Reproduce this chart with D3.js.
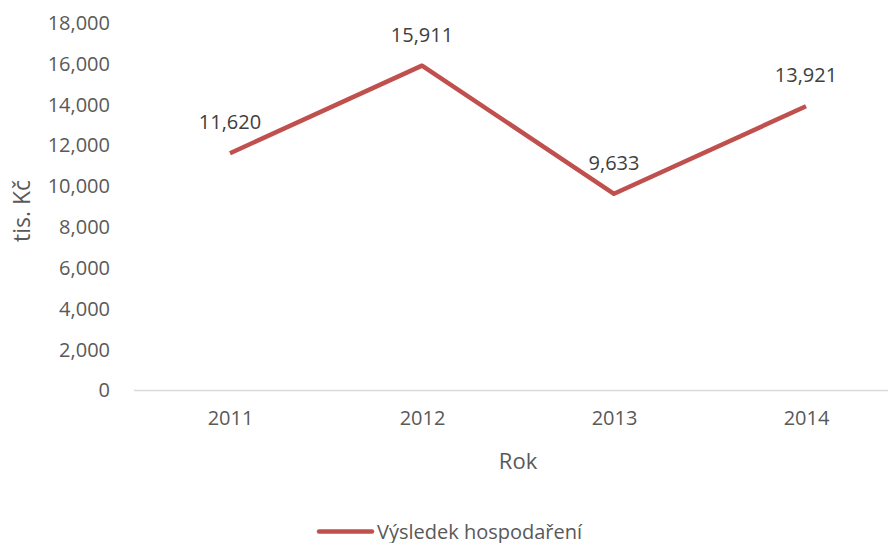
<!DOCTYPE html>
<html>
<head>
<meta charset="utf-8">
<script src="https://cdn.jsdelivr.net/npm/d3@7"></script>
<style>
  body { margin: 0; background: #fff; }
  text { font-family: "Open Sans", "Noto Sans", sans-serif; }
</style>
</head>
<body>
<div id="chart"></div>
<script>
const years = ['2011', '2012', '2013', '2014'];
const values = [11620, 15911, 9633, 13921];
const yTicks = [0, 2000, 4000, 6000, 8000, 10000, 12000, 14000, 16000, 18000];
const seriesName = 'Výsledek hospodaření';

const chartWidth = 888;
const chartHeight = 543;
const plotLeft = 134, plotRight = 902, plotTop = 23, plotBottom = 390.5;

const fmt = d3.format(',');

const xScale = d3.scalePoint()
    .domain(years)
    .range([plotLeft, plotRight])
    .padding(0.5);

const yScale = d3.scaleLinear()
    .domain([0, 18000])
    .range([plotBottom, plotTop]);

const svg = d3.select('#chart')
    .append('svg')
    .attr('width', chartWidth)
    .attr('height', chartHeight);

// y axis labels (no axis line, no ticks)
const yAxis = svg.append('g')
    .attr('transform', `translate(${plotLeft - 24},0)`)
    .call(d3.axisLeft(yScale).tickValues(yTicks).tickFormat(fmt).tickSize(0).tickPadding(0));
yAxis.select('.domain').remove();
yAxis.selectAll('text')
    .attr('fill', '#595959')
    .style('font-size', '20px')
    .style('font-family', '"Open Sans", sans-serif');

// x axis
const xAxis = svg.append('g')
    .attr('transform', `translate(0,${plotBottom})`)
    .call(d3.axisBottom(xScale).tickSize(0).tickPadding(20));
xAxis.select('.domain')
    .attr('stroke', '#d9d9d9')
    .attr('stroke-width', 1.5)
    .attr('d', `M${plotLeft},0H${plotRight}`);
xAxis.selectAll('text')
    .attr('fill', '#595959')
    .style('font-size', '20px')
    .style('font-family', '"Open Sans", sans-serif');

// line
const line = d3.line()
    .x((d, i) => xScale(years[i]))
    .y(d => yScale(d));

svg.append('path')
    .datum(values)
    .attr('d', line)
    .attr('fill', 'none')
    .attr('stroke', '#c0504d')
    .attr('stroke-width', 4.5)
    .attr('stroke-linejoin', 'round');

// data labels
svg.selectAll('.lbl')
    .data(values)
    .enter()
    .append('text')
    .attr('class', 'lbl')
    .attr('x', (d, i) => xScale(years[i]))
    .attr('y', d => yScale(d) - 24)
    .attr('text-anchor', 'middle')
    .attr('fill', '#404040')
    .style('font-size', '20px')
    .text(d => fmt(d));

// axis titles
svg.append('text')
    .attr('transform', 'translate(30,211) rotate(-90)')
    .attr('text-anchor', 'middle')
    .attr('fill', '#595959')
    .style('font-size', '23px')
    .text('tis. Kč');

svg.append('text')
    .attr('x', (plotLeft + plotRight) / 2)
    .attr('y', 469)
    .attr('text-anchor', 'middle')
    .attr('fill', '#595959')
    .style('font-size', '22px')
    .text('Rok');

// legend
const legend = svg.append('g');
legend.append('line')
    .attr('x1', 319).attr('x2', 372)
    .attr('y1', 531.5).attr('y2', 531.5)
    .attr('stroke', '#c0504d')
    .attr('stroke-width', 4.5)
    .attr('stroke-linecap', 'round');
legend.append('text')
    .attr('x', 377)
    .attr('y', 538.5)
    .attr('fill', '#595959')
    .style('font-size', '20px')
    .text(seriesName);
</script>
</body>
</html>
